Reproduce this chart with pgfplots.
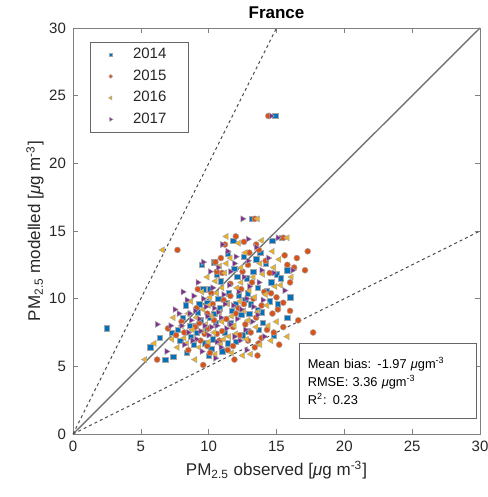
\documentclass[border=0pt]{standalone}
\usepackage{fontspec}
\setmainfont{Liberation Sans}
\usepackage{pgfplots}
\pgfplotsset{compat=1.18}

\definecolor{mblue}{rgb}{0,0.447,0.741}
\definecolor{morange}{rgb}{0.85,0.325,0.098}
\definecolor{myellow}{rgb}{0.929,0.694,0.125}
\definecolor{mpurple}{rgb}{0.494,0.184,0.556}
\definecolor{txt}{gray}{0.15}

\newcommand{\mug}{\textit{μ}g}

\begin{document}
\begin{tikzpicture}
\begin{axis}[
    name=ax,
    scale only axis,
    width=203.5pt, height=203pt,
    xmin=0, xmax=30, ymin=0, ymax=30,
    xtick={0,5,...,30}, ytick={0,5,...,30},
    tick align=inside,
    major tick length=2.5pt,
    axis line style={black!50},
    tick style={black!50},
    ticklabel style={font=\fontsize{7.5}{9}\selectfont, text=txt},
    /pgf/number format/assume math mode=true,
    title={\textbf{France}},
    every axis title shift=0pt,
    title style={font=\fontsize{8.5}{10}\selectfont, at={(0.5,1)}, anchor=base, yshift=4.5pt},
    xlabel={PM\textsubscript{2.5} observed [\mug{} m\textsuperscript{-3}]},
    ylabel={PM\textsubscript{2.5} modelled [\mug{} m\textsuperscript{-3}]},
    label style={font=\fontsize{8.5}{10}\selectfont, text=txt},
    xlabel style={at={(0.5,-0.0887)}, anchor=center},
    ylabel style={at={(-0.0934,0.5)}, anchor=center},
    legend style={at={(0.042,0.966)}, anchor=north west, draw=black!60,
        font=\fontsize{7.5}{8}\selectfont, text=txt,
        inner xsep=9pt, inner ysep=1pt, row sep=0pt,
        /tikz/every odd column/.append style={column sep=8pt}},
    legend image post style={scale=0.65},
    legend cell align=left,
    every axis plot/.append style={only marks},
]
% reference lines (hidden from legend)
\addplot[no marks, sharp plot, black!55, line width=0.7pt, forget plot] coordinates {(0,0) (30,30)};
\addplot[no marks, sharp plot, black!70, dashed, dash pattern=on 1.5pt off 1.5pt, line width=0.5pt, forget plot] coordinates {(0,0) (15,30)};
\addplot[no marks, sharp plot, black!70, dashed, dash pattern=on 1.5pt off 1.5pt, line width=0.5pt, forget plot] coordinates {(0,0) (30,15)};

% 2014
\addplot[mark=square*, mark size=1.35pt, mark options={fill=mblue, draw=black!35, line width=0.25pt}] coordinates {
(2.5,7.8) (14.9,23.5) (13.2,15.9) (14.7,14.3) (13.8,13.4) (15.8,12.1) (15.0,11.8) (15.3,11.5)
(16.0,10.1) (15.8,8.6) (14.8,7.3) (6.8,5.5) (5.7,6.4) (6.4,7.1) (7.3,7.5) (8.1,8.6) (7.4,5.7)
(9.6,10.7) (10.1,10.7) (10.4,12.7) (9.5,12.5) (11.9,12.2) (12.8,11.5) (11.5,10.4) (10.8,9.3)
(9.2,9.0) (8.7,7.2) (9.8,7.8) (10.5,8.2) (11.2,7.5) (12.4,8.8) (13.1,9.6) (12.0,6.8) (10.2,6.3)
(8.9,6.6) (9.4,8.4) (11.7,9.1) (13.6,10.8) (14.2,12.6) (12.6,13.1) (10.9,11.3) (13.9,9.0)
(14.5,9.8) (12.9,7.6) (11.0,6.1) (8.3,9.5) (9.9,9.7) (7.9,6.9) (10.7,10.0) (13.3,12.0)
(15.4,14.5) (11.4,13.3) (12.2,10.2) (14.0,8.2) (10.0,5.8) (9.1,7.5) (12.7,9.9)
(9.0,8.0) (10.3,7.0) (11.6,8.2) (12.5,7.3) (13.0,8.9) (13.6,9.2) (14.3,10.6) (11.3,9.7)
(10.1,8.6) (8.6,8.0) (9.7,6.7) (12.1,11.6) (13.5,12.9) (11.8,14.3) (10.6,11.8) (15.1,9.6)
(14.6,11.2) (12.9,10.4) (8.4,6.0) (7.7,7.7) (11.4,6.7) (13.7,7.7) (12.0,9.6) (10.4,8.9) (9.3,9.6)
};
\addlegendentry{2014}

% 2015
\addplot[mark=*, mark size=1.5pt, mark options={fill=morange, draw=black!35, line width=0.25pt}] coordinates {
(7.7,13.6) (14.4,23.5) (13.4,15.9) (15.5,14.5) (17.3,13.5) (17.1,12.1) (15.8,12.5) (16.0,11.2)
(15.0,10.1) (15.5,9.7) (15.1,9.2) (14.7,8.9) (16.6,8.4) (15.5,7.9) (14.8,7.5) (14.3,7.7)
(13.9,7.1) (13.6,5.8) (13.7,6.7) (13.4,6.4) (17.7,7.5) (6.2,5.5) (7.0,7.8) (9.6,5.1) (9.2,10.7)
(10.5,12.7) (10.6,12.0) (11.0,11.9) (11.2,14.0) (12.0,14.6) (12.6,14.2) (13.0,13.4) (13.7,13.6)
(9.0,7.9) (9.9,8.9) (10.6,7.4) (11.3,8.5) (12.2,9.3) (12.7,8.1) (11.8,6.5) (10.8,6.9) (8.5,6.2)
(9.4,6.9) (12.4,10.7) (13.2,11.2) (14.1,10.5) (11.6,11.1) (10.3,9.6) (12.9,12.5) (11.1,9.9)
(8.0,8.3) (7.6,7.3) (9.7,7.4) (12.3,7.3) (13.5,8.6) (14.5,11.9) (16.3,12.3) (15.2,6.6)
(11.9,5.5) (10.1,6.0)
(9.3,8.2) (10.4,8.4) (11.0,7.6) (12.0,8.9) (12.6,9.6) (13.3,10.0) (13.9,9.5) (14.6,10.4)
(11.6,10.2) (10.2,10.4) (9.1,9.3) (8.2,7.5) (9.9,6.5) (11.4,6.2) (12.9,6.9) (14.2,12.8)
(15.6,13.2) (13.5,14.0) (10.9,13.0) (12.5,12.0) (16.0,9.1) (16.5,13.0) (11.8,7.9) (10.0,7.8) (13.1,7.5)
};
\addlegendentry{2015}

% 2016
\addplot[mark=triangle*, mark size=1.75pt, mark options={rotate=90, fill=myellow, draw=black!35, line width=0.25pt}] coordinates {
(6.6,13.6) (13.6,15.9) (15.8,14.5) (14.7,13.5) (11.3,14.6) (10.5,11.3) (15.8,7.2) (12.5,5.8)
(5.3,5.5) (7.4,8.6) (8.0,8.0) (10.1,10.1) (9.6,9.2) (11.4,9.6) (12.4,12.3) (13.8,12.6)
(12.2,14.1) (11.6,13.0) (9.8,8.1) (10.4,7.5) (11.0,8.3) (11.9,8.0) (12.6,9.1) (13.4,10.1)
(12.1,10.8) (10.6,10.4) (8.8,7.7) (9.3,6.4) (10.9,6.6) (11.5,7.2) (12.8,7.0) (13.5,7.9)
(14.3,9.5) (14.9,10.9) (8.5,8.9) (7.7,6.4) (9.0,5.5) (10.2,8.7) (11.2,11.9) (13.0,10.6)
(14.0,11.8) (15.2,12.9) (14.6,6.9) (13.1,5.9) (8.2,7.1) (6.0,6.7) (11.7,6.0) (12.3,9.8)
(9.5,10.5) (10.8,12.4) (13.9,14.3) (14.4,8.0) (16.1,11.6)
(9.1,8.6) (10.0,9.5) (10.8,9.0) (11.7,8.7) (12.9,8.4) (13.6,9.0) (14.2,10.3) (11.1,7.0)
(10.0,6.8) (8.4,6.7) (9.6,7.6) (12.0,7.4) (13.3,11.6) (12.7,13.4) (11.0,10.8) (15.3,11.0)
(14.8,12.3) (12.4,11.2) (9.9,11.6) (8.7,9.8) (7.3,7.0) (13.8,6.6) (15.0,8.3) (11.3,12.6) (10.5,5.9)
};
\addlegendentry{2016}

% 2017
\addplot[mark=triangle*, mark size=1.75pt, mark options={rotate=-90, fill=mpurple, draw=black!35, line width=0.25pt}] coordinates {
(14.6,23.5) (12.5,15.9) (15.1,14.5) (16.2,12.1) (11.0,14.0) (10.1,12.0) (9.2,11.2) (6.2,8.1)
(8.0,8.0) (8.9,10.2) (9.6,12.7) (12.0,13.1) (12.9,14.4) (11.6,12.0) (10.4,9.3) (9.3,8.5)
(8.5,7.5) (9.1,7.0) (10.0,7.3) (10.6,8.0) (11.3,7.8) (12.1,8.5) (12.8,10.0) (13.3,9.4)
(11.8,9.5) (10.7,9.0) (9.7,8.0) (8.7,8.4) (7.5,9.2) (8.2,6.6) (9.5,6.1) (10.9,6.4) (11.5,11.0)
(12.6,11.6) (13.7,11.2) (14.4,13.0) (13.9,12.1) (10.3,10.8) (8.4,9.9) (7.8,8.9) (11.1,10.3)
(12.3,6.9) (13.2,8.3) (14.1,7.2) (10.5,5.6) (9.8,9.4) (11.9,12.6) (15.6,10.6) (6.9,6.1)
(12.7,7.7)
(9.0,9.1) (9.9,8.7) (10.2,7.9) (10.9,8.6) (11.6,8.1) (12.4,9.2) (13.0,10.9) (11.2,9.6)
(9.4,7.6) (8.8,6.9) (10.6,6.8) (11.9,7.2) (12.9,12.8) (11.4,13.5) (10.7,12.3) (13.5,13.8)
(14.8,11.9) (8.1,10.5) (7.2,8.0) (9.6,10.0) (12.2,10.5) (13.6,8.8) (14.0,9.9) (12.8,6.2) (8.6,8.9)
};
\addlegendentry{2017}

\node[draw=black!60, fill=white, anchor=north west, minimum width=88.5pt, minimum height=37.5pt,
      align=left, text=black, font=\fontsize{6.4}{9}\selectfont, inner xsep=4pt, text width=80pt]
  at (rel axis cs:0.555,0.224)
  {Mean bias: -1.97 \mug m\textsuperscript{-3}\\ RMSE: 3.36 \mug m\textsuperscript{-3}\\ R\textsuperscript{2}: 0.23};
\end{axis}
\pgfresetboundingbox
\path[use as bounding box] ([shift={(-36.5pt,-31.5pt)}]ax.south west) rectangle ([shift={(3.5pt,14pt)}]ax.north east);
\end{tikzpicture}
\end{document}
